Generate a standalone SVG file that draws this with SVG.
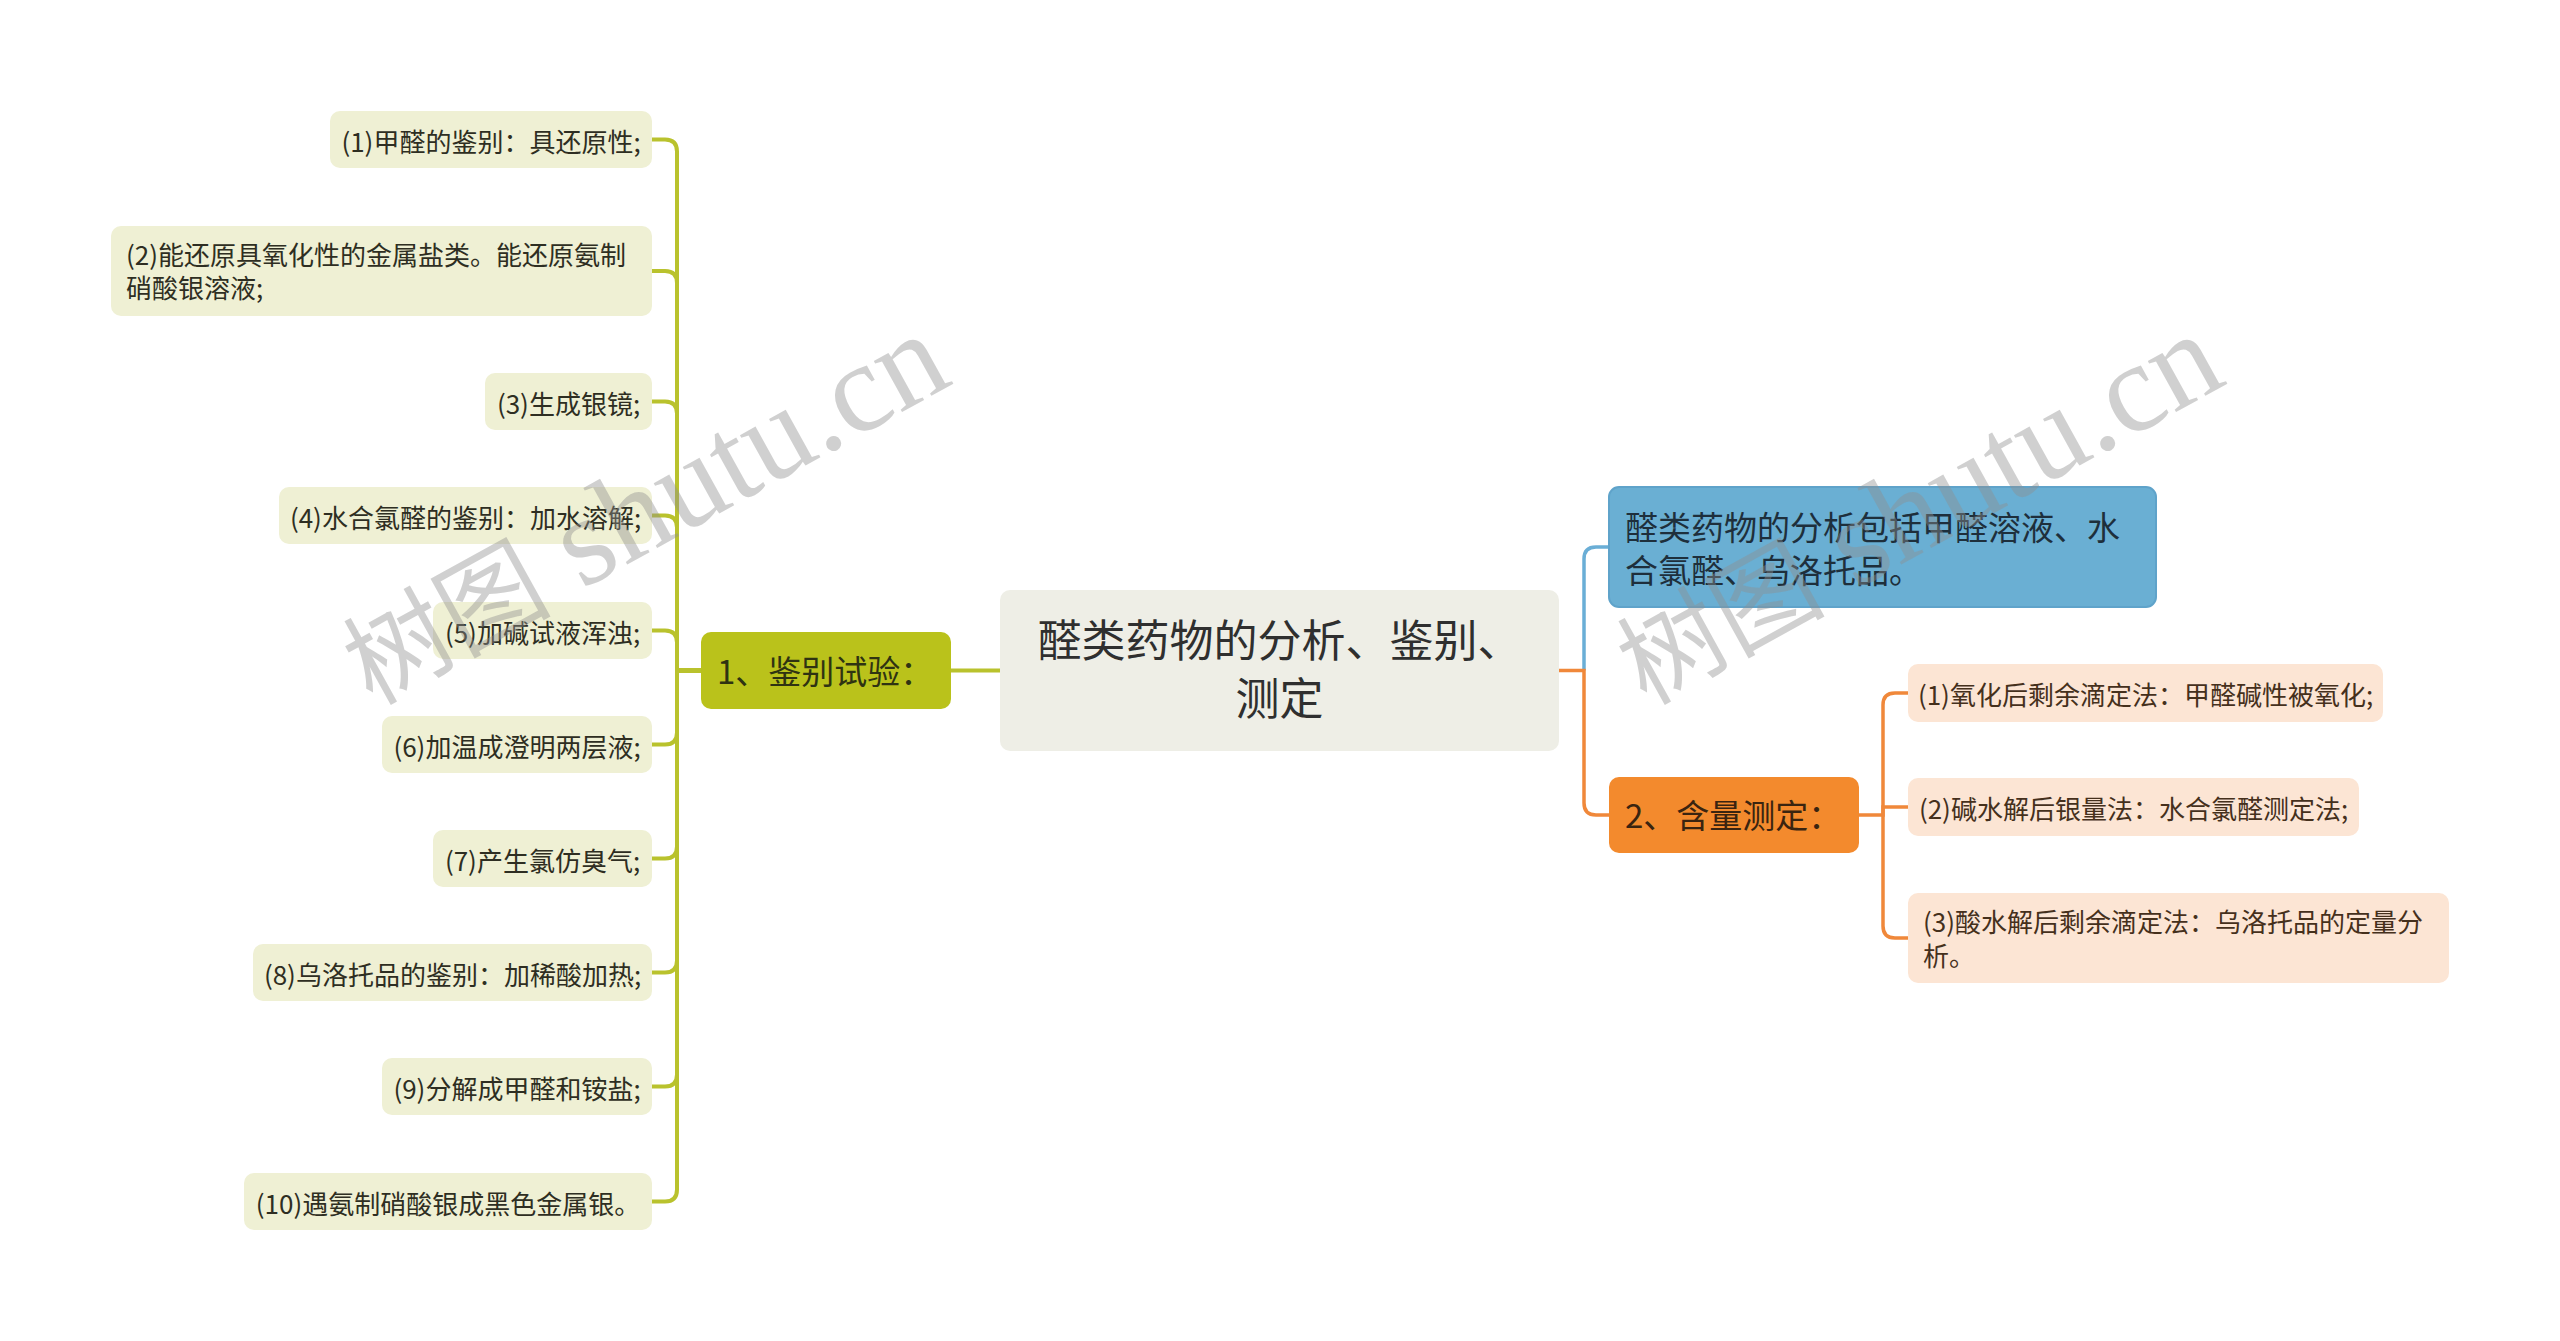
<svg xmlns="http://www.w3.org/2000/svg" width="2560" height="1341" viewBox="0 0 2560 1341">
<style>
.bg{fill:#ffffff}
.leafL{fill:#eff0d4}
.leafR{fill:#fce5d4}
.tL{font-family:"Noto Sans CJK SC","Microsoft YaHei",sans-serif;font-size:26px;fill:#2e2e22}
.tR{font-family:"Noto Sans CJK SC","Microsoft YaHei",sans-serif;font-size:26px;fill:#45301c}
.tB{font-family:"Noto Sans CJK SC","Microsoft YaHei",sans-serif;font-size:33px;fill:#1e2f3c}
.tM{font-family:"Noto Sans CJK SC","Microsoft YaHei",sans-serif;font-size:44px;fill:#2f2f2f}
.cG{fill:none;stroke:#b9c22d;stroke-width:4}
.cO{fill:none;stroke:#f0883a;stroke-width:3.5}
.cB{fill:none;stroke:#6aaed6;stroke-width:3.5}
.wm{fill:#8f8f8f;fill-opacity:0.42}
.wmc{font-family:"Noto Sans CJK SC",sans-serif;font-size:104px}
.wml{font-family:"Liberation Serif",serif;font-size:127px}
</style>
<rect class="bg" x="0" y="0" width="2560" height="1341"/>

<g id="connectors">
  <path class="cG" d="M951 670.5 H1000"/>
  <path class="cG" d="M701 670.5 H677 V151.5 Q677 139.5 665 139.5 H652"/>
  <path class="cG" d="M701 670.5 H677 V283 Q677 271 665 271 H652"/>
  <path class="cG" d="M701 670.5 H677 V413.5 Q677 401.5 665 401.5 H652"/>
  <path class="cG" d="M701 670.5 H677 V527.5 Q677 515.5 665 515.5 H652"/>
  <path class="cG" d="M701 670.5 H677 V642.5 Q677 630.5 665 630.5 H652"/>
  <path class="cG" d="M701 670.5 H677 V732.5 Q677 744.5 665 744.5 H652"/>
  <path class="cG" d="M701 670.5 H677 V846.5 Q677 858.5 665 858.5 H652"/>
  <path class="cG" d="M701 670.5 H677 V960.5 Q677 972.5 665 972.5 H652"/>
  <path class="cG" d="M701 670.5 H677 V1074.5 Q677 1086.5 665 1086.5 H652"/>
  <path class="cG" d="M701 670.5 H677 V1189.5 Q677 1201.5 665 1201.5 H652"/>
  <path class="cB" d="M1584 670.5 V559 Q1584 547 1596 547 H1609"/>
  <path class="cO" d="M1559 670.5 H1584 V803 Q1584 815 1596 815 H1609"/>
  <path class="cO" d="M1859 815 H1883 V705 Q1883 693 1895 693 H1908"/>
  <path class="cO" d="M1883 815 V807 H1908"/>
  <path class="cO" d="M1883 815 V926 Q1883 938 1895 938 H1908"/>
</g>

<g id="root">
  <rect x="1000" y="590" width="559" height="161" rx="10" fill="#eeeee6"/>
  <text class="tM" x="1279.5" y="657" text-anchor="middle">醛类药物的分析、鉴别、</text>
  <text class="tM" x="1279.5" y="715" text-anchor="middle">测定</text>
</g>

<g id="branch1">
  <rect x="701" y="632" width="250" height="77" rx="10" fill="#bac21b"/>
  <text class="tB" x="717" y="684" style="fill:#2f3312">1、鉴别试验：</text>
</g>

<g id="l1"><rect class="leafL" x="330" y="111" width="322" height="57" rx="10"/><text class="tL" x="491" y="151.5" text-anchor="middle">(1)甲醛的鉴别：具还原性;</text></g>
<g id="l2"><rect class="leafL" x="111" y="226" width="541" height="90" rx="10"/><text class="tL" x="126" y="265">(2)能还原具氧化性的金属盐类。能还原氨制</text><text class="tL" x="126" y="298">硝酸银溶液;</text></g>
<g id="l3"><rect class="leafL" x="485" y="373" width="167" height="57" rx="10"/><text class="tL" x="568.5" y="413.5" text-anchor="middle">(3)生成银镜;</text></g>
<g id="l4"><rect class="leafL" x="279" y="487" width="373" height="57" rx="10"/><text class="tL" x="465.5" y="527.5" text-anchor="middle">(4)水合氯醛的鉴别：加水溶解;</text></g>
<g id="l5"><rect class="leafL" x="433" y="602" width="219" height="57" rx="10"/><text class="tL" x="542.5" y="642.5" text-anchor="middle">(5)加碱试液浑浊;</text></g>
<g id="l6"><rect class="leafL" x="382" y="716" width="270" height="57" rx="10"/><text class="tL" x="517" y="756.5" text-anchor="middle">(6)加温成澄明两层液;</text></g>
<g id="l7"><rect class="leafL" x="433" y="830" width="219" height="57" rx="10"/><text class="tL" x="542.5" y="870.5" text-anchor="middle">(7)产生氯仿臭气;</text></g>
<g id="l8"><rect class="leafL" x="253" y="944" width="399" height="57" rx="10"/><text class="tL" x="452.5" y="984.5" text-anchor="middle">(8)乌洛托品的鉴别：加稀酸加热;</text></g>
<g id="l9"><rect class="leafL" x="382" y="1058" width="270" height="57" rx="10"/><text class="tL" x="517" y="1098.5" text-anchor="middle">(9)分解成甲醛和铵盐;</text></g>
<g id="l10"><rect class="leafL" x="244" y="1173" width="408" height="57" rx="10"/><text class="tL" x="448" y="1213.5" text-anchor="middle">(10)遇氨制硝酸银成黑色金属银。</text></g>

<g id="summary">
  <rect x="1609" y="487" width="547" height="120" rx="10" fill="#6aafd3" stroke="#5fa3ca" stroke-width="2"/>
  <text class="tB" x="1625" y="540">醛类药物的分析包括甲醛溶液、水</text>
  <text class="tB" x="1625" y="583">合氯醛、乌洛托品。</text>
</g>

<g id="branch2">
  <rect x="1609" y="777" width="250" height="76" rx="10" fill="#f38a2d"/>
  <text class="tB" x="1625" y="828" style="fill:#3a2410">2、含量测定：</text>
</g>

<g id="r1"><rect class="leafR" x="1908" y="664" width="475" height="58" rx="10"/><text class="tR" x="2145.5" y="705" text-anchor="middle">(1)氧化后剩余滴定法：甲醛碱性被氧化;</text></g>
<g id="r2"><rect class="leafR" x="1908" y="778" width="451" height="58" rx="10"/><text class="tR" x="2133.5" y="819" text-anchor="middle">(2)碱水解后银量法：水合氯醛测定法;</text></g>
<g id="r3"><rect class="leafR" x="1908" y="893" width="541" height="90" rx="10"/><text class="tR" x="1923" y="932">(3)酸水解后剩余滴定法：乌洛托品的定量分</text><text class="tR" x="1923" y="966">析。</text></g>

<g id="watermark" class="wm">
  <text transform="rotate(-29 372 706)" x="372" y="706"><tspan class="wmc">树图</tspan><tspan class="wml"> shutu.cn</tspan></text>
  <text transform="translate(1274 0) rotate(-29 372 706)" x="372" y="706"><tspan class="wmc">树图</tspan><tspan class="wml"> shutu.cn</tspan></text>
</g>
</svg>
